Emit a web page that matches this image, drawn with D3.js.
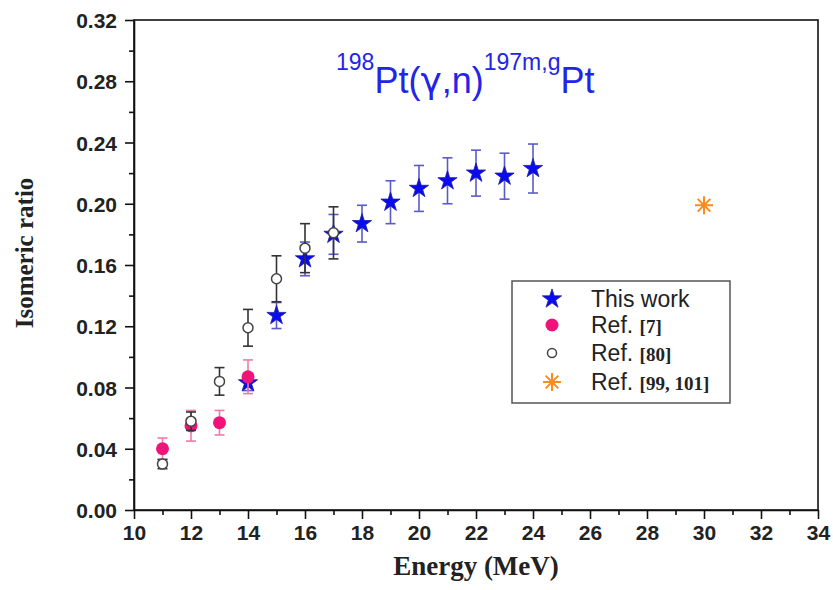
<!DOCTYPE html>
<html><head>
<meta charset="utf-8">
<title>Isomeric ratio 198Pt(g,n)197m,gPt</title>
<script src="https://d3js.org/d3.v7.min.js"></script>
<style>
  body { margin: 0; background: #fff; }
  .axis text { font-family: "Liberation Sans", Arial, sans-serif; font-weight: bold; font-size: 21px; fill: #222; }
  .axis path, .axis line { stroke: #111; stroke-width: 1.6; }
  .minor path { stroke: none; }
</style>
</head>
<body>
<svg id="chart" width="833" height="590"></svg>
<script>
  // data
  const energyThis = [14, 15, 16, 17, 18, 19, 20, 21, 22, 23, 24];
  const ratioThis  = [0.083, 0.127, 0.164, 0.180, 0.187, 0.201, 0.210, 0.215, 0.220, 0.218, 0.223];
  const errThis    = [0.005, 0.0085, 0.011, 0.013, 0.012, 0.014, 0.015, 0.015, 0.015, 0.015, 0.016];

  const energyRef7 = [11, 12, 13, 14];
  const ratioRef7  = [0.040, 0.055, 0.057, 0.087];
  const errRef7    = [0.007, 0.010, 0.008, 0.011];

  const energyRef80 = [11, 12, 13, 14, 15, 16, 17];
  const ratioRef80  = [0.030, 0.058, 0.084, 0.119, 0.151, 0.171, 0.181];
  const errRef80    = [0.003, 0.006, 0.009, 0.012, 0.015, 0.016, 0.017];

  const energyRef99 = [30];
  const ratioRef99  = [0.199];

  const xTicks = d3.range(10, 35, 2);
  const yTicks = d3.range(0, 0.321, 0.04);

  const svg = d3.select("#chart");
  const margin = {top: 20, right: 15, bottom: 80, left: 134};
  const x = d3.scaleLinear().domain([10, 34]).range([margin.left, 818]);
  const y = d3.scaleLinear().domain([0, 0.32]).range([510, margin.top]);

  // frame
  svg.append("rect")
    .attr("x", x(10)).attr("y", y(0.32))
    .attr("width", x(34) - x(10)).attr("height", y(0) - y(0.32))
    .attr("fill", "none").attr("stroke", "#111").attr("stroke-width", 1.6);

  // minor ticks
  svg.append("g").attr("class", "axis minor")
    .attr("transform", "translate(0," + y(0) + ")")
    .call(d3.axisBottom(x).tickValues(d3.range(11, 34, 2)).tickSize(5).tickFormat(""));
  svg.append("g").attr("class", "axis minor")
    .attr("transform", "translate(" + x(10) + ",0)")
    .call(d3.axisLeft(y).tickValues(d3.range(0.02, 0.32, 0.04)).tickSize(5).tickFormat(""));

  // major ticks
  svg.append("g").attr("class", "axis")
    .attr("transform", "translate(0," + y(0) + ")")
    .call(d3.axisBottom(x).tickValues(xTicks).tickSize(9).tickPadding(6).tickSizeOuter(0));
  svg.append("g").attr("class", "axis")
    .attr("transform", "translate(" + x(10) + ",0)")
    .call(d3.axisLeft(y).tickValues(yTicks).tickSize(9).tickPadding(8).tickSizeOuter(0)
      .tickFormat(d3.format(".2f")))
    .selectAll("text").attr("dy", "0.36em");

  // axis titles
  svg.append("text")
    .attr("x", 476).attr("y", 575)
    .attr("text-anchor", "middle")
    .style("font-family", "'Liberation Serif', 'Times New Roman', serif")
    .style("font-weight", "bold").style("font-size", "27px").style("fill", "#222")
    .text("Energy (MeV)");
  svg.append("text")
    .attr("transform", "translate(33,253) rotate(-90)")
    .attr("text-anchor", "middle")
    .style("font-family", "'Liberation Serif', 'Times New Roman', serif")
    .style("font-weight", "bold").style("font-size", "25px").style("fill", "#222")
    .text("Isomeric ratio");

  // reaction title
  const title = svg.append("text")
    .attr("x", 336).attr("y", 93)
    .style("font-family", "'Liberation Sans', Arial, sans-serif")
    .style("fill", "#2424e6");
  title.append("tspan").attr("dy", -23).style("font-size", "23px").text("198");
  title.append("tspan").attr("dy", 23).style("font-size", "36px").text("Pt(");
  title.append("tspan").style("font-size", "36px").style("font-family", "'DejaVu Sans', sans-serif").text("γ");
  title.append("tspan").style("font-size", "36px").text(",n)");
  title.append("tspan").attr("dy", -23).style("font-size", "23px").text("197m,g");
  title.append("tspan").attr("dy", 23).style("font-size", "36px").text("Pt");

  // helpers
  function asterisk(r) {
    const p = d3.path();
    for (let k = 0; k < 4; k++) {
      const a = k * Math.PI / 4;
      p.moveTo(-r * Math.cos(a), -r * Math.sin(a));
      p.lineTo(r * Math.cos(a), r * Math.sin(a));
    }
    return p.toString();
  }

  function errorBars(xs, ys, es, color) {
    const g = svg.append("g").attr("stroke", color).attr("stroke-width", 1.6).attr("fill", "none");
    xs.forEach((e, i) => {
      const cx = x(e), y1 = y(ys[i] + es[i]), y2 = y(ys[i] - es[i]);
      g.append("line").attr("x1", cx).attr("x2", cx).attr("y1", y1).attr("y2", y2);
      g.append("line").attr("x1", cx - 5).attr("x2", cx + 5).attr("y1", y1).attr("y2", y1);
      g.append("line").attr("x1", cx - 5).attr("x2", cx + 5).attr("y1", y2).attr("y2", y2);
    });
  }

  const starPath = d3.symbol().type(d3.symbolStar).size(115)();

  // This work
  errorBars(energyThis, ratioThis, errThis, "#5a5ac8");
  energyThis.forEach((e, i) => {
    svg.append("path").attr("d", starPath)
      .attr("transform", "translate(" + x(e) + "," + y(ratioThis[i]) + ")")
      .attr("fill", "#0a0af0").attr("stroke", "#1a1aa0").attr("stroke-width", 0.8);
  });

  // Ref. [7]
  errorBars(energyRef7, ratioRef7, errRef7, "#f07aa8");
  energyRef7.forEach((e, i) => {
    svg.append("circle").attr("cx", x(e)).attr("cy", y(ratioRef7[i])).attr("r", 6.5)
      .attr("fill", "#f0147a");
  });

  // Ref. [80]
  errorBars(energyRef80, ratioRef80, errRef80, "#333");
  energyRef80.forEach((e, i) => {
    svg.append("circle").attr("cx", x(e)).attr("cy", y(ratioRef80[i])).attr("r", 5)
      .attr("fill", "#fff").attr("stroke", "#444").attr("stroke-width", 1.5);
  });

  // Ref. [99, 101]
  energyRef99.forEach((e, i) => {
    svg.append("path").attr("d", asterisk(9))
      .attr("transform", "translate(" + x(e) + "," + y(ratioRef99[i]) + ")")
      .attr("fill", "none").attr("stroke", "#ff8a1c").attr("stroke-width", 2);
  });

  // legend
  const legend = svg.append("g");
  legend.append("rect").attr("x", 512).attr("y", 281).attr("width", 218).attr("height", 122)
    .attr("fill", "#fff").attr("stroke", "#555").attr("stroke-width", 1.5);
  const legendItems = [
    {label: "This work", ref: ""},
    {label: "Ref. ", ref: "[7]"},
    {label: "Ref. ", ref: "[80]"},
    {label: "Ref. ", ref: "[99, 101]"}
  ];
  const rowY = [299, 325, 353, 382];
  legendItems.forEach((d, i) => {
    const t = legend.append("text").attr("x", 591).attr("y", rowY[i] + 8)
      .style("font-family", "'Liberation Sans', Arial, sans-serif")
      .style("font-size", "23px").style("fill", "#222");
    t.append("tspan").text(d.label);
    if (d.ref) {
      t.append("tspan").text(d.ref)
        .style("font-family", "'Liberation Serif', 'Times New Roman', serif")
        .style("font-weight", "bold").style("font-size", "19px");
    }
  });
  legend.append("path").attr("d", starPath).attr("transform", "translate(552," + rowY[0] + ")")
    .attr("fill", "#0a0af0").attr("stroke", "#1a1aa0").attr("stroke-width", 0.8);
  legend.append("circle").attr("cx", 552).attr("cy", rowY[1]).attr("r", 6.5).attr("fill", "#f0147a");
  legend.append("circle").attr("cx", 552).attr("cy", rowY[2]).attr("r", 4.5)
    .attr("fill", "#fff").attr("stroke", "#444").attr("stroke-width", 1.5);
  legend.append("path").attr("d", asterisk(9)).attr("transform", "translate(552," + rowY[3] + ")")
    .attr("fill", "none").attr("stroke", "#ff8a1c").attr("stroke-width", 2);
</script>
</body>
</html>
